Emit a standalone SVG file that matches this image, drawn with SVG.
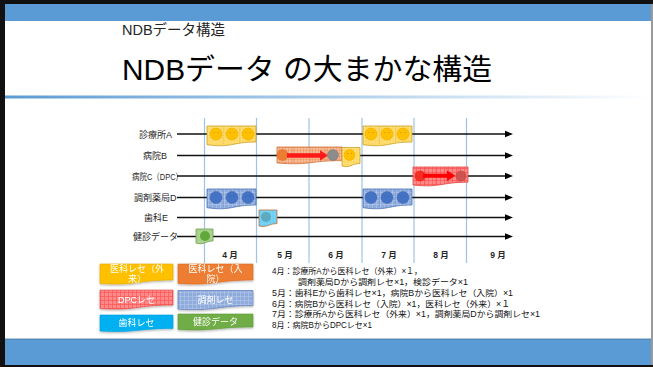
<svg xmlns="http://www.w3.org/2000/svg" width="653" height="367" viewBox="0 0 653 367">
<defs>
<style>
text{font-family:'Liberation Sans','Noto Sans CJK JP',sans-serif;}
.row{stroke:#111;stroke-width:1.3;fill:none}
.vl{stroke:#9DC3E6;stroke-width:1.2}
.lbl{font-size:9px;fill:#262626}
.mon{font-size:8.5px;font-weight:bold;fill:#262626;text-anchor:middle}
.leg{font-size:9px;fill:#fff;text-anchor:middle}
.desc{font-size:8.5px;fill:#111}
.face-eye{fill:#000;opacity:0.25}
</style>
<linearGradient id="gl" x1="0" x2="1" y1="0" y2="0">
<stop offset="0" stop-color="#5B9BD5"/>
<stop offset="1" stop-color="#5B9BD5" stop-opacity="0"/>
</linearGradient>
<pattern id="pY" width="3" height="3" patternUnits="userSpaceOnUse"><rect width="3" height="3" fill="#FFD966"/><circle cx="1.5" cy="1.5" r="0.45" fill="#FFF2CC"/></pattern>
<pattern id="pO" width="3" height="3" patternUnits="userSpaceOnUse"><rect width="3" height="3" fill="#F6BC96"/><path d="M0 0.5H3M0.5 0V3" stroke="#EC915C" stroke-width="0.5"/></pattern>
<pattern id="pR" width="4" height="4" patternUnits="userSpaceOnUse"><rect width="4" height="4" fill="#FF8A8A"/><path d="M0 0.5H4M0.5 0V4" stroke="#FF4B4B" stroke-width="0.6"/></pattern>
<pattern id="pB" width="4" height="4" patternUnits="userSpaceOnUse"><rect width="4" height="4" fill="#8FAADC"/><path d="M0 0.5H4M0.5 0V4" stroke="#B4C7E7" stroke-width="0.6"/></pattern>
<pattern id="pC" width="3" height="3" patternUnits="userSpaceOnUse"><rect width="3" height="3" fill="#6FD0F5"/><circle cx="1.5" cy="1.5" r="0.45" fill="#A8E3FA"/></pattern>
<pattern id="pG" width="3" height="3" patternUnits="userSpaceOnUse"><rect width="3" height="3" fill="#A9D18E"/><circle cx="1.5" cy="1.5" r="0.45" fill="#C5E0B4"/></pattern>
<marker id="ah" markerWidth="9" markerHeight="8" refX="0.5" refY="4" orient="auto" markerUnits="userSpaceOnUse"><path d="M0 0.5L8.5 4L0 7.5z" fill="#000"/></marker>
<filter id="sh" x="-10%" y="-20%" width="120%" height="160%"><feDropShadow dx="0" dy="1.2" stdDeviation="0.8" flood-color="#000" flood-opacity="0.3"/></filter>
</defs>

<!-- frame and slide -->
<rect x="0" y="0" width="653" height="367" fill="#111"/>
<rect x="5" y="4" width="646" height="361" fill="#fff"/>
<rect x="651" y="4" width="2" height="361" fill="#9a9a9a"/>
<rect x="5" y="4" width="646" height="17" fill="#5B9BD5"/>
<rect x="5" y="339" width="646" height="26" fill="#5B9BD5"/>
<line x1="5" y1="339" x2="651" y2="339" stroke="#41719C" stroke-width="0.8"/>
<rect x="5" y="95.5" width="646" height="3" fill="url(#gl)"/>

<text x="122" y="35" style="font-size:14.5px;fill:#262626">NDBデータ構造</text>
<text x="122" y="80" style="font-size:29px;fill:#000" textLength="370" lengthAdjust="spacingAndGlyphs">NDBデータ の大まかな構造</text>

<!-- grid -->
<g id="grid">
<line class="vl" x1="204.5" y1="118" x2="204.5" y2="263"/>
<line class="vl" x1="256.5" y1="118" x2="256.5" y2="263"/>
<line class="vl" x1="309" y1="118" x2="309" y2="263"/>
<line class="vl" x1="362" y1="118" x2="362" y2="263"/>
<line class="vl" x1="414" y1="118" x2="414" y2="263"/>
<line class="vl" x1="466.5" y1="118" x2="466.5" y2="263"/>
<text class="mon" x="230" y="258">4 月</text>
<text class="mon" x="285" y="258">5 月</text>
<text class="mon" x="336" y="258">6 月</text>
<text class="mon" x="389" y="258">7 月</text>
<text class="mon" x="441" y="258">8 月</text>
<text class="mon" x="498" y="258">9 月</text>
</g>

<!-- connectors: timelines -->
<g id="connectors">
<line class="row" x1="177" y1="134" x2="505" y2="134" marker-end="url(#ah)"/>
<line class="row" x1="177" y1="155.5" x2="505" y2="155.5" marker-end="url(#ah)"/>
<line class="row" x1="177" y1="176" x2="505" y2="176" marker-end="url(#ah)"/>
<line class="row" x1="177" y1="197.5" x2="505" y2="197.5" marker-end="url(#ah)"/>
<line class="row" x1="177" y1="217.5" x2="505" y2="217.5" marker-end="url(#ah)"/>
<line class="row" x1="177" y1="236.5" x2="505" y2="236.5" marker-end="url(#ah)"/>
</g>

<!-- row labels -->
<g id="labels">
<text class="lbl" x="139" y="137.5">診療所A</text>
<text class="lbl" x="143" y="159">病院B</text>
<text class="lbl" x="132" y="179.5" textLength="51" lengthAdjust="spacingAndGlyphs">病院C（DPC）</text>
<text class="lbl" x="134" y="201">調剤薬局D</text>
<text class="lbl" x="144" y="221">歯科E</text>
<text class="lbl" x="133" y="240">健診データ</text>
</g>

<!-- A 4月 -->
<g id="docA4">
<path d="M207 126H256V142C231.5 142 231.5 148.2 207 144.7Z" fill="url(#pY)" stroke="#C9A227" stroke-width="0.8"/>
<path d="M223.3 126V144M239.7 126V143" stroke="#E0B84A" stroke-width="0.5"/>
<circle cx="216" cy="134" r="6" fill="#FFC000" stroke="#E6AC00" stroke-width="0.6"/>
<circle cx="232" cy="134" r="6" fill="#FFC000" stroke="#E6AC00" stroke-width="0.6"/>
<circle cx="248" cy="134" r="6" fill="#FFC000" stroke="#E6AC00" stroke-width="0.6"/>
</g>
<!-- A 7月 -->
<g id="docA7">
<path d="M363 126H412V142C387.5 142 387.5 148.2 363 144.7Z" fill="url(#pY)" stroke="#C9A227" stroke-width="0.8"/>
<path d="M379.3 126V144M395.7 126V143" stroke="#E0B84A" stroke-width="0.5"/>
<circle cx="371" cy="134" r="6" fill="#FFC000" stroke="#E6AC00" stroke-width="0.6"/>
<circle cx="387" cy="134" r="6" fill="#FFC000" stroke="#E6AC00" stroke-width="0.6"/>
<circle cx="403" cy="134" r="6" fill="#FFC000" stroke="#E6AC00" stroke-width="0.6"/>
</g>
<!-- B orange -->
<g id="docB">
<path d="M277 147H342V160.6C309.5 160.6 309.5 165.8 277 162.9Z" fill="url(#pO)" stroke="#D0703A" stroke-width="0.8"/>
<path d="M293 147V162.5M310 147V162M326 147V161" stroke="#E58B55" stroke-width="0.5"/>
<circle cx="282.5" cy="155" r="5.5" fill="#ED7D31" stroke="#D56A22" stroke-width="0.5"/>
<path d="M287 153.3H320V150.3L328 155.5L320 160.7V157.7H287Z" fill="#FF1A1A"/>
<circle cx="333" cy="155" r="5.5" fill="#8C8C8C" stroke="#777" stroke-width="0.5"/>
</g>
<g id="docB2">
<path d="M342 147.5H360V163.5C351 163.5 351 168.5 342 166Z" fill="url(#pY)" stroke="#C9A227" stroke-width="0.8"/>
<circle cx="349.5" cy="155" r="5.5" fill="#FFC000" stroke="#E6AC00" stroke-width="0.5"/>
</g>
<!-- C red DPC -->
<g id="docC">
<path d="M413 167H468V182.2C440.5 182.2 440.5 188 413 185Z" fill="url(#pR)" stroke="#E0483F" stroke-width="0.8"/>
<path d="M425 167V185M436 167V184.5M447 167V184M458 167V183" stroke="#FF4040" stroke-width="0.5"/>
<circle cx="420" cy="176" r="5.5" fill="#F2261A" opacity="0.9"/>
<path d="M423 173.7H447V170.5L455.5 175.7L447 180.9V177.7H423Z" fill="#FF0000"/>
<circle cx="461" cy="176" r="5.5" fill="#C8504B" opacity="0.9"/>
</g>
<!-- D 4月 -->
<g id="docD4">
<path d="M207 189H256V205C231.5 205 231.5 211.2 207 207.7Z" fill="url(#pB)" stroke="#4A6FB5" stroke-width="0.8"/>
<path d="M223.3 189V207M239.7 189V206" stroke="#6F8FCF" stroke-width="0.5"/>
<circle cx="216" cy="197.5" r="6" fill="#4472C4" stroke="#3A62A8" stroke-width="0.5"/>
<circle cx="232" cy="197.5" r="6" fill="#4472C4" stroke="#3A62A8" stroke-width="0.5"/>
<circle cx="248" cy="197.5" r="6" fill="#4472C4" stroke="#3A62A8" stroke-width="0.5"/>
</g>
<!-- D 7月 -->
<g id="docD7">
<path d="M363 189H412V205C387.5 205 387.5 211.2 363 207.7Z" fill="url(#pB)" stroke="#4A6FB5" stroke-width="0.8"/>
<path d="M379.3 189V207M395.7 189V206" stroke="#6F8FCF" stroke-width="0.5"/>
<circle cx="371" cy="197.5" r="6" fill="#4472C4" stroke="#3A62A8" stroke-width="0.5"/>
<circle cx="387" cy="197.5" r="6" fill="#4472C4" stroke="#3A62A8" stroke-width="0.5"/>
<circle cx="403" cy="197.5" r="6" fill="#4472C4" stroke="#3A62A8" stroke-width="0.5"/>
</g>
<!-- E cyan -->
<g id="docE">
<path d="M259 210H277V223.6C268 223.6 268 228 259 226Z" fill="url(#pC)" stroke="#C0703A" stroke-width="0.8"/>
<circle cx="266" cy="217" r="5" fill="#5DA9C0"/>
</g>
<!-- K green -->
<g id="docK">
<path d="M196 229H213V241C204.5 241 204.5 245.6 196 243Z" fill="url(#pG)" stroke="#6A9F48" stroke-width="0.8"/>
<circle cx="205" cy="236" r="5" fill="#5FA83A"/>
</g>

<!-- faces eyes -->
<g id="eyes" class="face-eye">
<circle cx="214" cy="132.5" r="0.6"/><circle cx="218" cy="132.5" r="0.6"/>
<circle cx="230" cy="132.5" r="0.6"/><circle cx="234" cy="132.5" r="0.6"/>
<circle cx="246" cy="132.5" r="0.6"/><circle cx="250" cy="132.5" r="0.6"/>
<circle cx="369" cy="132.5" r="0.6"/><circle cx="373" cy="132.5" r="0.6"/>
<circle cx="385" cy="132.5" r="0.6"/><circle cx="389" cy="132.5" r="0.6"/>
<circle cx="401" cy="132.5" r="0.6"/><circle cx="405" cy="132.5" r="0.6"/>
<circle cx="347.5" cy="153.5" r="0.6"/><circle cx="351.5" cy="153.5" r="0.6"/>
<circle cx="230" cy="196" r="0.6"/><circle cx="234" cy="196" r="0.6"/>
<circle cx="246" cy="196" r="0.6"/><circle cx="250" cy="196" r="0.6"/>
<circle cx="385" cy="196" r="0.6"/><circle cx="389" cy="196" r="0.6"/>
<circle cx="401" cy="196" r="0.6"/><circle cx="405" cy="196" r="0.6"/>
</g>

<!-- legend -->
<g id="legYellow" filter="url(#sh)">
<path d="M100 264H173V280C136.5 280 136.5 286 100 283.5Z" fill="#FFC000" stroke="#E0A800" stroke-width="0.6"/>
<text class="leg" x="137" y="271.5">医科レセ（外</text>
<text class="leg" x="137" y="281.5">来）</text>
</g>
<g id="legOrange" filter="url(#sh)">
<path d="M178 264H253V280C215.5 280 215.5 286 178 283.5Z" fill="#ED7D31" stroke="#D9691F" stroke-width="0.6"/>
<text class="leg" x="215.5" y="271.5">医科レセ（入</text>
<text class="leg" x="215.5" y="281.5">院）</text>
</g>
<g id="legRed" filter="url(#sh)">
<path d="M100 290H173V305C136.5 305 136.5 311 100 308.5Z" fill="url(#pR)" stroke="#E0483F" stroke-width="0.6"/>
<text class="leg" x="136.5" y="302.5">DPCレセ</text>
</g>
<g id="legBlue" filter="url(#sh)">
<path d="M178 290.5H253V305.5C215.5 305.5 215.5 311.5 178 309Z" fill="url(#pB)" stroke="#4A6FB5" stroke-width="0.6"/>
<text class="leg" x="215.5" y="302.5">調剤レセ</text>
</g>
<g id="legCyan" filter="url(#sh)">
<path d="M100 315H173V328.5C136.5 328.5 136.5 333 100 331Z" fill="#00B0F0" stroke="#00A0DC" stroke-width="0.6"/>
<text class="leg" x="136.5" y="326">歯科レセ</text>
</g>
<g id="legGreen" filter="url(#sh)">
<path d="M178 314H253V327C215.5 327 215.5 331.5 178 329.5Z" fill="#70AD47" stroke="#5E9A38" stroke-width="0.6"/>
<text class="leg" x="215.5" y="324.5">健診データ</text>
</g>

<!-- description -->
<g id="desc">
<text class="desc" x="272" y="274" textLength="150" lengthAdjust="spacingAndGlyphs">4月：診療所Aから医科レセ（外来）×１，</text>
<text class="desc" x="298" y="285" textLength="170" lengthAdjust="spacingAndGlyphs">調剤薬局Dから調剤レセ×1，検診データ×1</text>
<text class="desc" x="272" y="296" textLength="241" lengthAdjust="spacingAndGlyphs">5月：歯科Eから歯科レセ×1，病院Bから医科レセ（入院）×1</text>
<text class="desc" x="272" y="306.5" textLength="238" lengthAdjust="spacingAndGlyphs">6月：病院Bから医科レセ（入院）×1，医科レセ（外来）×１</text>
<text class="desc" x="272" y="317" textLength="268" lengthAdjust="spacingAndGlyphs">7月：診療所Aから医科レセ（外来）×1，調剤薬局Dから調剤レセ×1</text>
<text class="desc" x="272" y="327.5" textLength="100" lengthAdjust="spacingAndGlyphs">8月：病院BからDPCレセ×1</text>
</g>
</svg>
